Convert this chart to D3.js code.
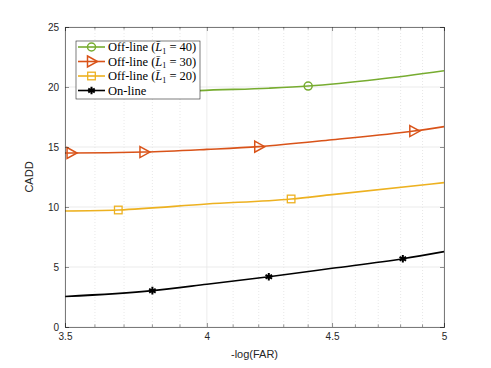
<!DOCTYPE html>
<html>
<head>
<meta charset="utf-8">
<script src="https://cdn.jsdelivr.net/npm/d3@7"></script>
<style>
  body { margin: 0; background: #fff; }
  .tick text { font-family: "Liberation Sans", Arial, sans-serif; font-size: 10px; fill: #262626; }
</style>
</head>
<body>
<div id="chart"></div>
<script>
// data
var greenX  = [3.9, 3.97, 4.24, 4.4, 4.7, 5.0];
var greenY  = [19.62, 19.7, 19.9, 20.08, 20.65, 21.36];
var greenMk = [4.4];

var orangeX  = [3.5, 3.52, 3.77, 4.0, 4.2, 4.5, 4.86, 5.0];
var orangeY  = [14.5, 14.5, 14.58, 14.8, 15.03, 15.6, 16.33, 16.7];
var orangeMk = [3.52, 3.77, 4.2, 4.86];

var yellowX  = [3.5, 3.68, 4.0, 4.33, 4.5, 5.0];
var yellowY  = [9.67, 9.75, 10.25, 10.67, 11.03, 12.03];
var yellowMk = [3.68, 4.33];

var blackX  = [3.5, 3.8, 4.0, 4.24, 4.5, 4.81, 5.0];
var blackY  = [2.54, 3.03, 3.56, 4.19, 4.89, 5.69, 6.28];
var blackMk = [3.8, 4.24, 4.81];

var xTicks = [3.5, 4, 4.5, 5];
var xMinor = [3.6, 3.7, 3.8, 3.9, 4.1, 4.2, 4.3, 4.4, 4.6, 4.7, 4.8, 4.9];
var yTicks = [0, 5, 10, 15, 20, 25];

var legendNames = ["40", "30", "20", "on"];

var width = 491, height = 368;
var margin = {left: 65, right: 47, top: 27, bottom: 41};
var w = width - margin.left - margin.right;
var h = height - margin.top - margin.bottom;

var svg = d3.select("#chart").append("svg")
    .attr("width", width)
    .attr("height", height);

var g = svg.append("g")
    .attr("transform", `translate(${margin.left}, ${margin.top})`);

var x = d3.scaleLog().domain([3.5, 5]).range([0, w]);
var y = d3.scaleLinear().domain([0, 25]).range([h, 0]);

// grid
g.selectAll(".minor").data(xMinor).enter().append("line")
    .attr("x1", d => x(d)).attr("x2", d => x(d))
    .attr("y1", 0).attr("y2", h)
    .attr("stroke", "#d8d8d8").attr("stroke-width", 0.6)
    .attr("stroke-dasharray", "1,2");
g.selectAll(".vgrid").data(xTicks).enter().append("line")
    .attr("x1", d => x(d)).attr("x2", d => x(d))
    .attr("y1", 0).attr("y2", h)
    .attr("stroke", "#e6e6e6").attr("stroke-width", 0.8);
g.selectAll(".hgrid").data(yTicks).enter().append("line")
    .attr("x1", 0).attr("x2", w)
    .attr("y1", d => y(d)).attr("y2", d => y(d))
    .attr("stroke", "#e6e6e6").attr("stroke-width", 0.8);

// series
var series = [
  {xs: greenX, ys: greenY, mk: greenMk, color: "#77AC30", shape: "circle"},
  {xs: orangeX, ys: orangeY, mk: orangeMk, color: "#D95319", shape: "triangle"},
  {xs: yellowX, ys: yellowY, mk: yellowMk, color: "#EDB120", shape: "square"},
  {xs: blackX, ys: blackY, mk: blackMk, color: "#000000", shape: "star"}
];

var line = d3.line()
    .x(d => x(d[0]))
    .y(d => y(d[1]))
    .curve(d3.curveMonotoneX);

function drawMarker(sel, shape, color, cx, cy) {
  if (shape == "circle") {
    sel.append("circle").attr("cx", cx).attr("cy", cy).attr("r", 4)
      .attr("fill", "none").attr("stroke", color).attr("stroke-width", 1.5);
  } else if (shape == "triangle") {
    sel.append("path")
      .attr("d", `M${cx-4},${cy-5.5}L${cx+6},${cy}L${cx-4},${cy+5.5}Z`)
      .attr("fill", "none").attr("stroke", color).attr("stroke-width", 1.5);
  } else if (shape == "square") {
    sel.append("rect").attr("x", cx-3.8).attr("y", cy-3.8)
      .attr("width", 7.6).attr("height", 7.6)
      .attr("fill", "none").attr("stroke", color).attr("stroke-width", 1.3);
  } else {
    sel.append("path")
      .attr("d", d3.symbol().type(d3.symbolAsterisk).size(40)())
      .attr("transform", `translate(${cx},${cy})`)
      .attr("fill", "none").attr("stroke", color).attr("stroke-width", 2);
  }
}

series.forEach(function(s) {
  var pts = s.xs.map((v, i) => [v, s.ys[i]]);
  g.append("path").datum(pts)
    .attr("d", line)
    .attr("fill", "none")
    .attr("stroke", s.color)
    .attr("stroke-width", 1.6);
  s.mk.forEach(function(m) {
    var i = s.xs.indexOf(m);
    drawMarker(g, s.shape, s.color, x(m), y(s.ys[i]));
  });
});

// axes
var bottomAxis = d3.axisBottom(x).tickValues(xTicks).tickFormat(d3.format("")).tickSize(-4).tickPadding(6);
var topAxis = d3.axisTop(x).tickValues(xTicks).tickFormat("").tickSize(-4);
var leftAxis = d3.axisLeft(y).tickValues(yTicks).tickSize(-4).tickPadding(6);
var rightAxis = d3.axisRight(y).tickValues(yTicks).tickFormat("").tickSize(-4);

g.append("g").attr("transform", `translate(0, ${h})`).call(bottomAxis);
g.append("g").call(topAxis);
g.append("g").call(leftAxis);
g.append("g").attr("transform", `translate(${w}, 0)`).call(rightAxis);

// minor ticks on x
g.selectAll(".mtickb").data(xMinor).enter().append("line")
    .attr("x1", d => x(d)).attr("x2", d => x(d))
    .attr("y1", h).attr("y2", h - 2.5)
    .attr("stroke", "#262626").attr("stroke-width", 0.5);
g.selectAll(".mtickt").data(xMinor).enter().append("line")
    .attr("x1", d => x(d)).attr("x2", d => x(d))
    .attr("y1", 0).attr("y2", 2.5)
    .attr("stroke", "#262626").attr("stroke-width", 0.5);

svg.selectAll(".domain").attr("stroke", "#262626").attr("stroke-width", 0.6);
svg.selectAll(".tick line").attr("stroke", "#262626").attr("stroke-width", 0.5);

// axis labels
svg.append("text")
    .attr("x", margin.left + w / 2).attr("y", 358)
    .attr("text-anchor", "middle")
    .style("font-family", "Liberation Sans, Arial, sans-serif")
    .style("font-size", "11px").attr("fill", "#262626")
    .text("-log(FAR)");

svg.append("text")
    .attr("transform", `translate(33, ${margin.top + h / 2}) rotate(-90)`)
    .attr("text-anchor", "middle")
    .style("font-family", "Liberation Sans, Arial, sans-serif")
    .style("font-size", "11px").attr("fill", "#262626")
    .text("CADD");

// legend
var lg = svg.append("g").attr("transform", "translate(76, 41)");
lg.append("rect").attr("width", 124).attr("height", 58)
    .attr("fill", "#fff").attr("stroke", "#262626").attr("stroke-width", 0.6);

series.forEach(function(s, i) {
  var ly = 6 + i * 14.5;
  lg.append("line").attr("x1", 2).attr("x2", 29).attr("y1", ly).attr("y2", ly)
    .attr("stroke", s.color).attr("stroke-width", 1.6);
  drawMarker(lg, s.shape, s.color, 15.5, ly);
  var t = lg.append("text").attr("x", 32).attr("y", ly + 4)
    .style("font-family", "Liberation Serif, 'DejaVu Serif', serif")
    .style("font-size", "12.5px").attr("fill", "#000");
  if (legendNames[i] == "on") {
    t.text("On-line");
  } else {
    t.append("tspan").text("Off-line (");
    t.append("tspan").style("font-style", "italic").text("L\u0304");
    t.append("tspan").attr("dy", 2.5).style("font-size", "8px").text("1");
    t.append("tspan").attr("dy", -2.5).text(" = " + legendNames[i] + ")");
  }
});
</script>
</body>
</html>
